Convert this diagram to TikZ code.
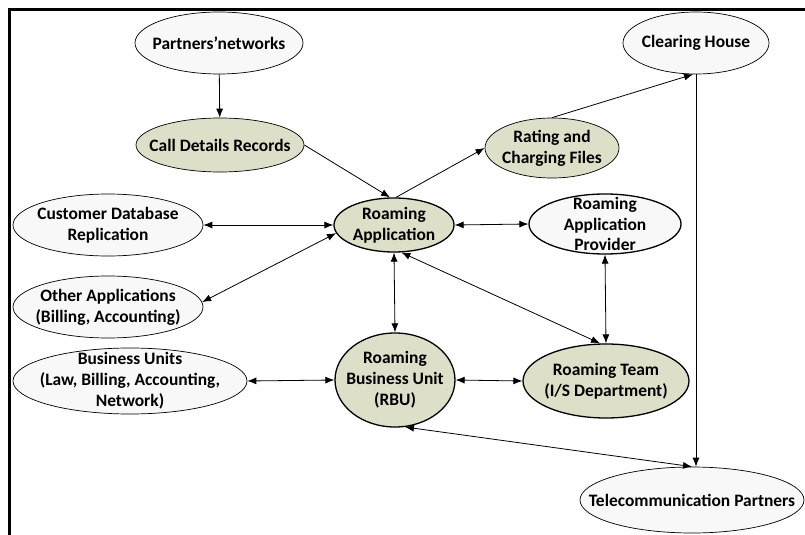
\documentclass[tikz,border=0pt]{standalone}
\usepackage{fontspec}
\setmainfont{Carlito}
\usepackage{tikz}
\usetikzlibrary{shapes.geometric, arrows.meta}

\definecolor{sage}{RGB}{221,223,201}
\definecolor{pale}{RGB}{248,248,248}

\begin{document}
\begin{tikzpicture}[
    x=1bp, y=-1bp,
    font=\fontsize{17.5}{21}\selectfont\bfseries,
    % Node styles:
    ent/.style={ellipse, draw, fill=pale, line width=0.7bp, align=center,
                inner sep=-30bp},
    data/.style={ent, fill=sage},
    hub/.style={ent, line width=1.3bp},
    % Arrow styles:
    line/.style={-{Latex[length=9bp,width=7bp]}, line width=0.8bp},
    dline/.style={{Latex[length=9bp,width=7bp]}-{Latex[length=9bp,width=7bp]}, line width=0.8bp},
]
\useasboundingbox (0,0) rectangle (805,535);
\fill[white] (0,0) rectangle (805,535);
% frame (cut at right and bottom)
\draw[line width=2.5bp] (9.7,535) -- (9.7,9.3) -- (805,9.3);

% --- NODES ---
\node[ent, minimum width=168bp, minimum height=62bp] (pn)  at (219,43)  {Partners'networks};
\node[data, minimum width=168bp, minimum height=54bp] (cdr) at (220,145) {Call Details Records};
\node[ent, minimum width=190bp, minimum height=62bp] (cdb) at (108,225) {Customer Database\\Replication};
\node[ent, minimum width=190bp, minimum height=62bp] (oa)  at (108,307) {Other Applications\\(Billing, Accounting)};
\node[ent, minimum width=234bp, minimum height=66bp] (bu)  at (130,381) {Business Units\\(Law, Billing, Accounting,\\Network)};

\node[hub, fill=sage, minimum width=120bp, minimum height=54bp] (ra)  at (394,225) {Roaming\\Application};
\node[hub, fill=sage, minimum width=120bp, minimum height=94bp] (rbu) at (395,380) {Roaming\\Business Unit\\(RBU)};

\node[data, minimum width=134bp, minimum height=60bp] (rcf) at (552,148) {Rating and\\Charging Files};
\node[ent, minimum width=146bp, minimum height=62bp] (ch)  at (696,43)  {Clearing House};
\node[hub, minimum width=152bp, minimum height=60bp] (rap) at (605,224) {Roaming\\Application\\Provider};
\node[hub, fill=sage, minimum width=166bp, minimum height=74bp] (rt)  at (606,381) {Roaming Team\\(I/S Department)};
\node[ent, minimum width=224bp, minimum height=66bp] (tp)  at (692,500) {Telecommunication Partners};

% --- ARROWS ---
% data flow
\draw[line] (pn) -- (cdr);
\draw[line] (cdr.east) -- ([xshift=-4bp]ra.north);
\draw[line] ([xshift=2bp]ra.north) -- (rcf.west);
\draw[line] (rcf.north) -- ([xshift=-3bp]ch.south);
\draw[line] (ch.south) -- (ch.south |- tp.north);

% two-way links
\draw[dline] (cdb.east) -- (ra.west);
\draw[dline] (oa.3) -- (ra.188);
\draw[dline] (ra.east) -- (rap.west);
\draw[dline] (ra.south) -- (rbu.north);
\draw[dline] (ra.-75) -- ([xshift=-6bp]rt.north);
\draw[dline] (rap.south) -- (rt.north);
\draw[dline] (bu.east) -- (rbu.west);
\draw[dline] (rbu.east) -- (rt.west);
\draw[dline] (rbu.-78) -- (tp.north);

\end{tikzpicture}
\end{document}
